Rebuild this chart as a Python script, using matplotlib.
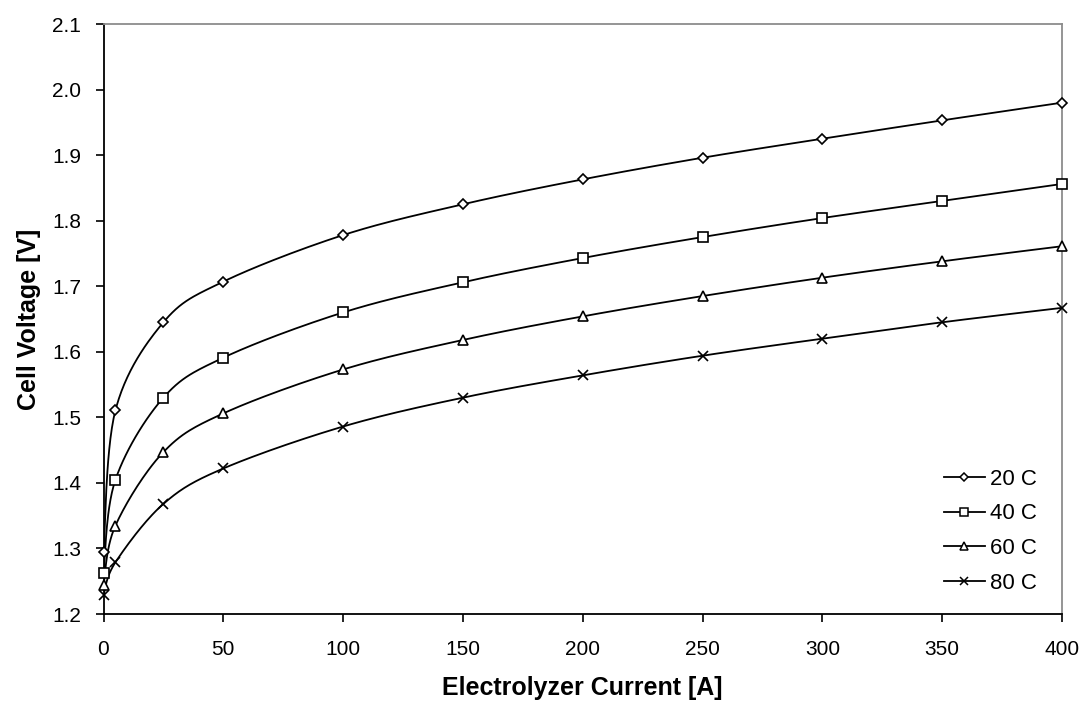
import numpy as np
import matplotlib
matplotlib.use("Agg")
import matplotlib.pyplot as plt
from matplotlib.lines import Line2D

plt.rcParams['font.family'] = ['Liberation Sans', 'DejaVu Sans']

current = [0, 5, 25, 50, 100, 150, 200, 250, 300, 350, 400]
v_20c = [1.295, 1.511, 1.645, 1.707, 1.778, 1.825, 1.863, 1.896, 1.925, 1.953, 1.980]
v_40c = [1.263, 1.405, 1.530, 1.591, 1.660, 1.706, 1.743, 1.775, 1.804, 1.830, 1.856]
v_60c = [1.244, 1.335, 1.447, 1.506, 1.573, 1.618, 1.654, 1.685, 1.713, 1.738, 1.761]
v_80c = [1.229, 1.279, 1.368, 1.422, 1.486, 1.530, 1.564, 1.594, 1.620, 1.645, 1.667]
series_labels = ['20 C', '40 C', '60 C', '80 C']

x_ticks = [0, 50, 100, 150, 200, 250, 300, 350, 400]
y_ticks = [1.2, 1.3, 1.4, 1.5, 1.6, 1.7, 1.8, 1.9, 2.0, 2.1]

AX_LEFT, AX_RIGHT, AX_TOP, AX_BOTTOM = 103.5, 1062, 24, 614
ASPECT = (AX_BOTTOM - AX_TOP) / (AX_RIGHT - AX_LEFT)


def smooth_curve(x, y, xr, yr, n=30):
    """Bezier-smoothed curve through the points, built in axis-normalised space."""
    x = np.asarray(x, float)
    y = np.asarray(y, float)
    sx = (xr[1] - xr[0])
    sy = (yr[1] - yr[0])
    px = (x - xr[0]) / sx
    py = (y - yr[0]) / sy * ASPECT
    P = np.column_stack([px, py])
    P = np.vstack([P[0], P, P[-1]])
    out = []
    tension = 0.5
    for i in range(1, len(P) - 2):
        p0, p1, p2, p3 = P[i - 1], P[i], P[i + 1], P[i + 2]
        m1 = (p2 - p0) * tension
        m2 = (p3 - p1) * tension
        if i == 1:
            m1 = (p2 - p1) * tension
        if i == len(P) - 3:
            m2 = (p2 - p1) * tension
        c1 = p1 + m1 / 3
        c2 = p2 - m2 / 3
        t = np.linspace(0, 1, n)[:, None]
        seg = ((1 - t) ** 3) * p1 + 3 * ((1 - t) ** 2) * t * c1 + 3 * (1 - t) * t ** 2 * c2 + t ** 3 * p2
        out.append(seg if i == 1 else seg[1:])
    out = np.vstack(out)
    ox = out[:, 0] * sx + xr[0]
    oy = out[:, 1] / ASPECT * sy + yr[0]
    return ox, oy


fig = plt.figure(figsize=(10.85, 7.06), dpi=100)
ax = fig.add_axes([AX_LEFT / 1085, 1 - AX_BOTTOM / 706,
                   (AX_RIGHT - AX_LEFT) / 1085, (AX_BOTTOM - AX_TOP) / 706])

xr = (0, 400)
yr = (1.2, 2.1)
styles = [
    dict(marker='D', ms=5.3),
    dict(marker='s', ms=6.5),
    dict(marker='^', ms=6.5),
    dict(marker='x', ms=7),
]
handles = []
for vals, st in zip([v_20c, v_40c, v_60c, v_80c], styles):
    sx_, sy_ = smooth_curve(current, vals, xr, yr)
    ax.plot(sx_, sy_, color='black', lw=1.3, zorder=2)
    ax.plot(current, vals, linestyle='none', marker=st['marker'], ms=st['ms'],
            mfc='white', mec='black', mew=1.2, zorder=3, clip_on=False)
    handles.append(Line2D([], [], color='black', lw=1.3, marker=st['marker'],
                          ms=st['ms'] * 0.8, mfc='white', mec='black', mew=1.1))

ax.set_xlim(*xr)
ax.set_ylim(*yr)
ax.set_xticks(x_ticks)
ax.set_yticks(y_ticks)
ax.set_xticklabels([str(t) for t in x_ticks])
ax.set_yticklabels([f'{t:.1f}' for t in y_ticks])
ax.tick_params(direction='out', length=6, width=1.2, labelsize=15, color='black')
ax.tick_params(axis='x', pad=13)
ax.tick_params(axis='y', pad=10)

for side in ['left', 'bottom']:
    ax.spines[side].set_color('black')
    ax.spines[side].set_linewidth(1.3)
for side in ['top', 'right']:
    ax.spines[side].set_color('#8c8c8c')
    ax.spines[side].set_linewidth(1.3)

ax.set_xlabel('Electrolyzer Current [A]', fontsize=18, fontweight='bold', labelpad=12)
ax.set_ylabel('Cell Voltage [V]', fontsize=18, fontweight='bold', labelpad=8)

ax.legend(handles, series_labels, loc='lower right', frameon=False, fontsize=16,
          handlelength=1.85, handletextpad=0.25, labelspacing=0.62,
          bbox_to_anchor=(0.995, 0.0))

fig.savefig('out.png', dpi=100, facecolor='white')
